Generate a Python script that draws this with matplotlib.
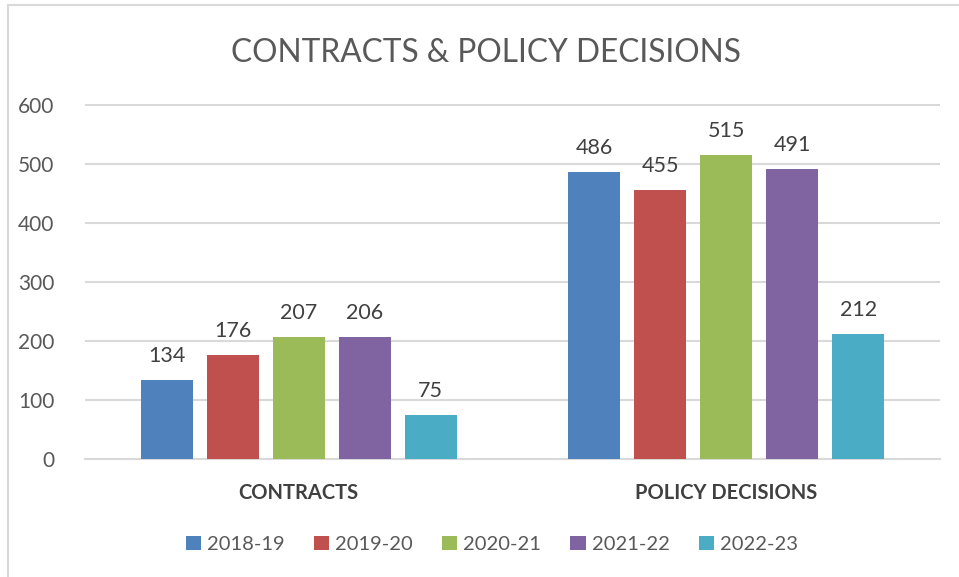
import numpy as np
import matplotlib.pyplot as plt
from matplotlib.patches import Rectangle

categories = ['CONTRACTS', 'POLICY DECISIONS']
years = ['2018-19', '2019-20', '2020-21', '2021-22', '2022-23']
values = {
    '2018-19': [134, 486],
    '2019-20': [176, 455],
    '2020-21': [207, 515],
    '2021-22': [206, 491],
    '2022-23': [75, 212],
}
colors = ['#4F81BD', '#C0504D', '#9BBB59', '#8064A2', '#4BACC6']
yticks = [0, 100, 200, 300, 400, 500, 600]

plt.rcParams['font.family'] = ['Lato', 'DejaVu Sans']

fig = plt.figure(figsize=(9.59, 5.77), dpi=100)
ax = fig.add_axes([0.0886, 0.2045, 0.8916, 0.6153])

# outer chart frame
fig.patches.append(Rectangle((8 / 959, -0.01), 1.0, 1 - 5 / 577 + 0.01,
                             transform=fig.transFigure, fill=False,
                             edgecolor='#D9D9D9', linewidth=1.5))

x = np.arange(len(categories))
width = 0.1216
pitch = 0.1544
for i, yr in enumerate(years):
    offs = (i - 2) * pitch
    bars = ax.bar(x + offs, values[yr], width, color=colors[i], label=yr, zorder=3)
    for b, v in zip(bars, values[yr]):
        ax.text(b.get_x() + b.get_width() / 2, v + 24, str(v), ha='center', va='bottom',
                fontsize=15.5, color='#404040')

ax.set_xlim(-0.5, 1.5)
ax.set_ylim(0, 601)
ax.set_yticks(yticks)
ax.set_yticklabels([str(t) for t in yticks], fontsize=15, color='#595959')
ax.set_xticks(x)
ax.set_xticklabels(categories, fontsize=14.5, fontweight='bold', color='#404040')
ax.tick_params(axis='both', length=0)
ax.tick_params(axis='y', pad=22)
ax.tick_params(axis='x', pad=17)
ax.yaxis.grid(True, color='#D9D9D9', linewidth=1.5, zorder=0)
for side in ['top', 'right', 'left']:
    ax.spines[side].set_visible(False)
ax.spines['bottom'].set_color('#D9D9D9')
ax.spines['bottom'].set_linewidth(1.5)

fig.text(0.507, 0.908, 'CONTRACTS & POLICY DECISIONS', ha='center', va='center',
         fontsize=22.8, color='#595959')

ax.legend(loc='center', bbox_to_anchor=(0.476, -0.24), ncol=5, frameon=False,
          fontsize=14.5, handlelength=0.75, handleheight=0.75, handletextpad=0.3,
          columnspacing=1.45, labelcolor='#595959')

plt.savefig('out.png', dpi=100)
